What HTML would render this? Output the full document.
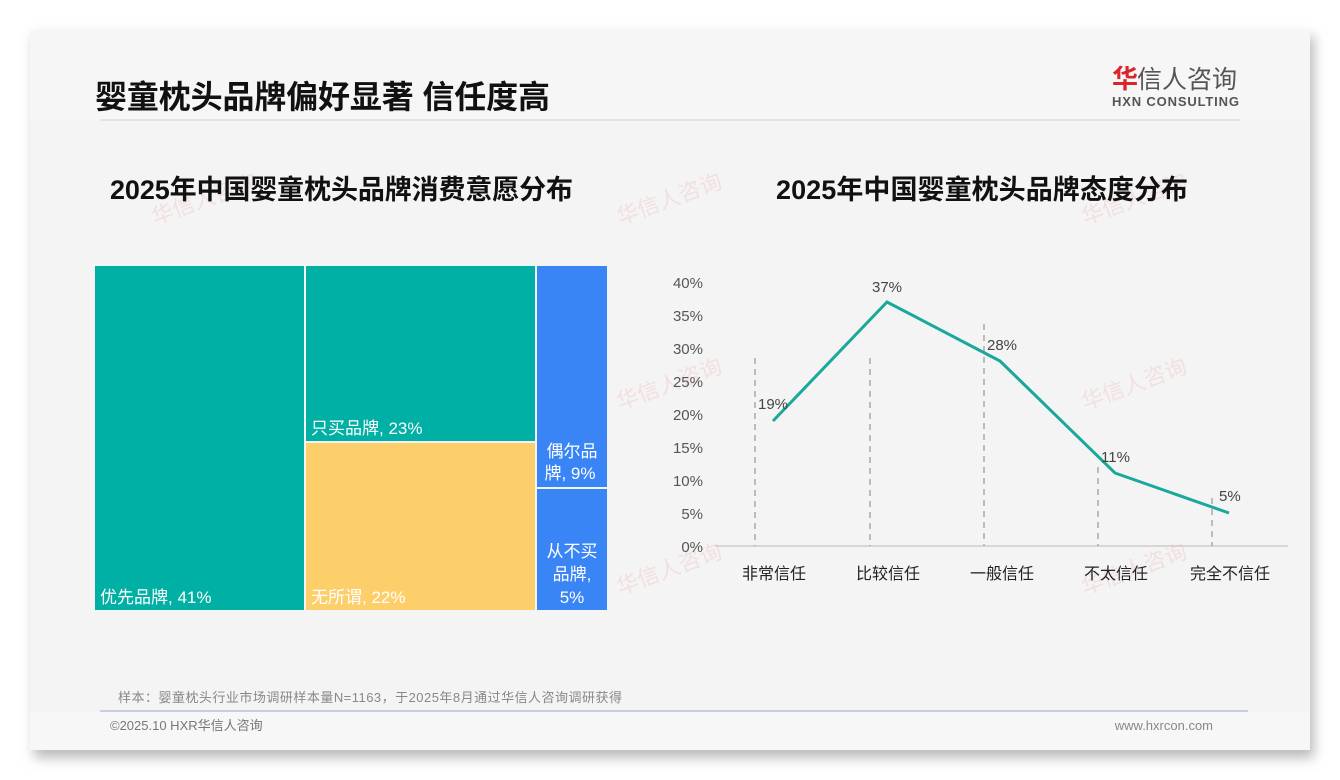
<!DOCTYPE html>
<html><head><meta charset="utf-8"><style>
html,body{margin:0;padding:0;background:#fff;width:1340px;height:780px;overflow:hidden}
svg{display:block;font-family:"Liberation Sans","Noto Sans CJK SC",sans-serif}
</style></head><body>
<svg width="1340" height="780" viewBox="0 0 1340 780">
<defs><filter id="sh" x="-5%" y="-5%" width="110%" height="115%"><feGaussianBlur stdDeviation="6"/></filter></defs>
<rect x="34" y="36" width="1280" height="722" fill="#bbb" filter="url(#sh)"/>
<rect x="30" y="30" width="1280" height="720" fill="#f4f4f4"/>
<rect x="30" y="30" width="1280" height="90" fill="#f6f6f6"/>
<text x="95" y="108" font-size="32" font-weight="bold" fill="#111" textLength="455">婴童枕头品牌偏好显著 信任度高</text>
<text x="1112" y="88" font-size="26" font-weight="bold" fill="#d9262b">华</text>
<text x="1137" y="88" font-size="25" fill="#555">信人咨询</text>
<text x="1112" y="106" font-size="13" font-weight="bold" fill="#555" textLength="127">HXN CONSULTING</text>
<line x1="100" y1="120" x2="1240" y2="120" stroke="#ddd" stroke-width="1.5"/>
<g fill="#f0c8c8" opacity="0.45" font-size="22">
<text transform="translate(155,225) rotate(-20)">华信人咨询</text>
<text transform="translate(620,225) rotate(-20)">华信人咨询</text>
<text transform="translate(1085,225) rotate(-20)">华信人咨询</text>
<text transform="translate(620,410) rotate(-20)">华信人咨询</text>
<text transform="translate(1085,410) rotate(-20)">华信人咨询</text>
<text transform="translate(620,595) rotate(-20)">华信人咨询</text>
<text transform="translate(1085,595) rotate(-20)">华信人咨询</text>
</g>
<text x="110" y="199" font-size="27" font-weight="bold" fill="#111" textLength="463">2025年中国婴童枕头品牌消费意愿分布</text>
<text x="776" y="199" font-size="27" font-weight="bold" fill="#111" textLength="412">2025年中国婴童枕头品牌态度分布</text>
<g font-size="17" fill="#fff">
<rect x="95" y="266" width="209" height="344" fill="#00b0a5"/>
<rect x="306" y="266" width="229" height="175" fill="#00b0a5"/>
<rect x="306" y="443" width="229" height="167" fill="#fdcf6b"/>
<rect x="537" y="266" width="70" height="221" fill="#3a85f5"/>
<rect x="537" y="489" width="70" height="121" fill="#3a85f5"/>
<text x="100" y="603">优先品牌, 41%</text>
<text x="311" y="434">只买品牌, 23%</text>
<text x="311" y="603">无所谓, 22%</text>
<text x="572" y="457" text-anchor="middle">偶尔品</text>
<text x="570" y="479" text-anchor="middle">牌, 9%</text>
<text x="572" y="557" text-anchor="middle">从不买</text>
<text x="572" y="580" text-anchor="middle">品牌,</text>
<text x="572" y="603" text-anchor="middle">5%</text>
</g>
<g font-size="15" fill="#555" text-anchor="end">
<text x="703" y="288">40%</text><text x="703" y="321">35%</text><text x="703" y="354">30%</text>
<text x="703" y="387">25%</text><text x="703" y="420">20%</text><text x="703" y="453">15%</text>
<text x="703" y="486">10%</text><text x="703" y="519">5%</text><text x="703" y="552">0%</text>
</g>
<line x1="715" y1="546" x2="1288" y2="546" stroke="#ccc" stroke-width="1.5"/>
<g stroke="#aaa" stroke-width="1.5" stroke-dasharray="6,5">
<line x1="755" y1="358" x2="755" y2="546"/>
<line x1="870" y1="358" x2="870" y2="546"/>
<line x1="984" y1="324" x2="984" y2="546"/>
<line x1="1098" y1="467" x2="1098" y2="546"/>
<line x1="1212" y1="498" x2="1212" y2="546"/>
</g>
<polyline points="773,421 887,302 1000,361 1115,473 1229,513" fill="none" stroke="#1aa89c" stroke-width="3"/>
<g font-size="15" fill="#444">
<text x="758" y="409">19%</text><text x="872" y="292">37%</text><text x="987" y="350">28%</text>
<text x="1101" y="462">11%</text><text x="1219" y="501">5%</text>
</g>
<g font-size="16" fill="#222" text-anchor="middle">
<text x="774" y="579">非常信任</text><text x="888" y="579">比较信任</text><text x="1002" y="579">一般信任</text>
<text x="1116" y="579">不太信任</text><text x="1230" y="579">完全不信任</text>
</g>
<text x="118" y="702" font-size="13" fill="#888" textLength="504">样本：婴童枕头行业市场调研样本量N=1163，于2025年8月通过华信人咨询调研获得</text>
<line x1="100" y1="711" x2="1248" y2="711" stroke="#b8c4d4" stroke-width="1.5"/>
<rect x="30" y="712" width="1280" height="38" fill="#f7f7f7"/>
<text x="110" y="730" font-size="13" fill="#777">©2025.10 HXR华信人咨询</text>
<text x="1213" y="730" font-size="13" fill="#888" text-anchor="end">www.hxrcon.com</text>
</svg>
</body></html>
